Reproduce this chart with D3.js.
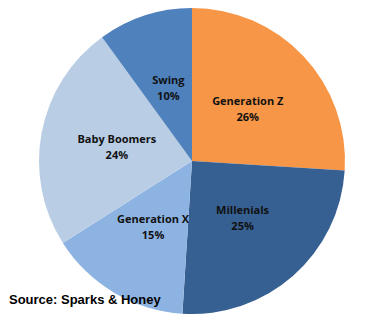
<!DOCTYPE html>
<html><head><meta charset="utf-8">
<script src="https://cdn.jsdelivr.net/npm/d3@7"></script>
<style>body{margin:0;background:#fff}svg{display:block}</style>
</head><body>
<svg id="c" width="390" height="324"></svg>
<script>
const categories = ["Generation Z", "Millenials", "Generation X", "Baby Boomers", "Swing"];
const values = [26, 25, 15, 24, 10];
const colors = ["#F79646", "#376092", "#8DB3E2", "#B9CDE5", "#4F81BD"];
const source = "Source: Sparks & Honey";

const svg = d3.select("#c");
const cx = 192, cy = 161, r = 153;
const data = categories.map((c, i) => ({name: c, value: values[i], color: colors[i]}));
const pie = d3.pie().value(d => d.value).sort(null);
const arc = d3.arc().innerRadius(0).outerRadius(r);
const g = svg.append("g").attr("transform", `translate(${cx},${cy})`);
const arcs = pie(data);
g.selectAll("path").data(arcs).join("path")
  .attr("d", arc).attr("fill", d => d.data.color);
const lbl = g.selectAll("text").data(arcs).join("text")
  .attr("transform", d => `translate(${arc.centroid(d)})`)
  .attr("text-anchor", "middle")
  .style("font-family", "'Open Sans', sans-serif")
  .style("font-weight", "bold").style("font-size", "11px").attr("fill", "#111");
lbl.append("tspan").attr("x", 0).attr("y", -4).text(d => d.data.name);
lbl.append("tspan").attr("x", 0).attr("y", 12).text(d => d.data.value + "%");
svg.append("text").attr("x", 9).attr("y", 304)
  .style("font-family", "'Liberation Sans', Arial, sans-serif")
  .style("font-weight", "bold").style("font-size", "13px").attr("fill", "#000")
  .text(source);
</script>
</body></html>
